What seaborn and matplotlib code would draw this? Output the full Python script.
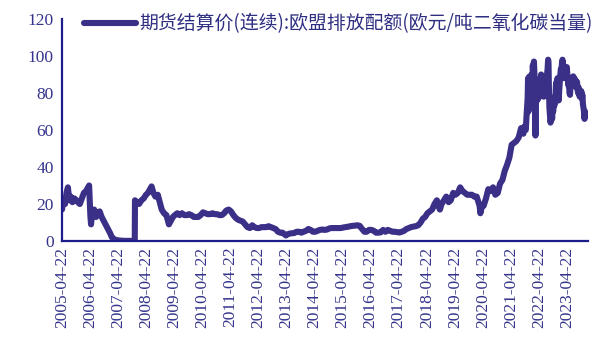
import matplotlib
matplotlib.use("Agg")
import matplotlib.pyplot as plt
import seaborn as sns
import pandas as pd

# ---- data ----
dates = [
    "2005-04-22", "2005-05-10", "2005-06-01", "2005-06-20", "2005-07-08", "2005-07-25",
    "2005-08-15", "2005-09-05", "2005-10-01", "2005-10-25", "2005-11-15", "2005-12-10",
    "2006-01-05", "2006-02-01", "2006-03-01", "2006-04-10", "2006-04-26", "2006-05-05",
    "2006-05-20", "2006-06-15", "2006-07-10", "2006-08-01", "2006-08-25", "2006-09-20",
    "2006-10-15", "2006-11-10", "2006-12-05", "2007-01-05", "2007-02-01", "2007-03-01",
    "2007-04-01", "2007-05-01", "2007-07-01", "2007-09-01", "2007-11-01", "2007-11-25",
    "2007-11-28", "2007-12-20", "2008-01-20", "2008-02-20", "2008-03-20", "2008-04-20",
    "2008-05-15", "2008-06-10", "2008-07-01", "2008-07-25", "2008-08-20", "2008-09-20",
    "2008-10-15", "2008-11-10", "2008-12-10", "2009-01-10", "2009-02-12", "2009-03-10",
    "2009-04-05", "2009-05-01", "2009-06-01", "2009-07-01", "2009-08-01", "2009-09-01",
    "2009-10-01", "2009-11-01", "2009-12-01", "2010-01-01", "2010-02-01", "2010-03-01",
    "2010-04-01", "2010-05-01", "2010-06-01", "2010-07-01", "2010-08-01", "2010-09-01",
    "2010-10-01", "2010-11-01", "2010-12-01", "2011-01-01", "2011-02-01", "2011-03-01",
    "2011-04-01", "2011-05-01", "2011-06-01", "2011-07-01", "2011-08-01", "2011-09-01",
    "2011-10-01", "2011-11-01", "2011-12-01", "2012-01-01", "2012-02-01", "2012-03-01",
    "2012-04-01", "2012-05-01", "2012-06-01", "2012-07-01", "2012-08-01", "2012-09-01",
    "2012-10-01", "2012-11-01", "2012-12-01", "2013-01-01", "2013-02-01", "2013-03-01",
    "2013-04-15", "2013-05-01", "2013-06-01", "2013-07-01", "2013-08-01", "2013-09-01",
    "2013-10-01", "2013-11-01", "2013-12-01", "2014-01-01", "2014-02-01", "2014-03-01",
    "2014-04-01", "2014-05-01", "2014-06-01", "2014-07-01", "2014-08-01", "2014-09-01",
    "2014-10-01", "2014-11-01", "2014-12-01", "2015-01-01", "2015-02-01", "2015-03-01",
    "2015-04-01", "2015-05-01", "2015-06-01", "2015-07-01", "2015-08-01", "2015-09-01",
    "2015-10-01", "2015-11-01", "2015-12-01", "2016-01-01", "2016-02-01", "2016-03-01",
    "2016-04-01", "2016-05-01", "2016-06-01", "2016-07-01", "2016-08-01", "2016-09-01",
    "2016-10-01", "2016-11-01", "2016-12-01", "2017-01-01", "2017-02-01", "2017-03-01",
    "2017-04-01", "2017-05-01", "2017-06-01", "2017-07-01", "2017-08-01", "2017-09-01",
    "2017-10-01", "2017-11-01", "2017-12-01", "2018-01-01", "2018-02-01", "2018-03-01",
    "2018-04-01", "2018-05-01", "2018-06-01", "2018-07-01", "2018-08-01", "2018-09-01",
    "2018-09-20", "2018-10-10", "2018-11-01", "2018-12-01", "2019-01-01", "2019-02-01",
    "2019-03-01", "2019-04-01", "2019-05-01", "2019-06-01", "2019-07-01", "2019-08-01",
    "2019-09-01", "2019-10-01", "2019-11-01", "2019-12-01", "2020-01-01", "2020-02-01",
    "2020-03-10", "2020-03-20", "2020-04-10", "2020-05-01", "2020-06-01", "2020-07-01",
    "2020-08-01", "2020-09-01", "2020-10-01", "2020-11-01", "2020-12-01", "2021-01-01",
    "2021-02-01", "2021-03-01", "2021-04-01", "2021-05-01", "2021-06-01", "2021-07-01",
    "2021-08-01", "2021-09-01", "2021-10-01", "2021-10-15", "2021-11-01", "2021-11-10",
    "2021-11-18", "2021-11-25", "2021-12-01", "2021-12-06", "2021-12-10", "2021-12-15",
    "2021-12-20", "2021-12-27", "2022-01-04", "2022-01-10", "2022-01-17", "2022-01-24",
    "2022-02-01", "2022-02-08", "2022-02-15", "2022-02-22", "2022-03-01", "2022-03-07",
    "2022-03-11", "2022-03-16", "2022-03-22", "2022-03-29", "2022-04-05", "2022-04-12",
    "2022-04-20", "2022-04-28", "2022-05-06", "2022-05-13", "2022-05-20", "2022-05-27",
    "2022-06-03", "2022-06-10", "2022-06-17", "2022-06-24", "2022-07-01", "2022-07-08",
    "2022-07-15", "2022-07-22", "2022-07-29", "2022-08-05", "2022-08-12", "2022-08-19",
    "2022-08-24", "2022-08-29", "2022-09-05", "2022-09-12", "2022-09-19", "2022-09-26",
    "2022-10-03", "2022-10-10", "2022-10-17", "2022-10-24", "2022-10-31", "2022-11-07",
    "2022-11-14", "2022-11-21", "2022-11-28", "2022-12-05", "2022-12-12", "2022-12-19",
    "2022-12-27", "2023-01-04", "2023-01-11", "2023-01-18", "2023-01-25", "2023-02-01",
    "2023-02-08", "2023-02-15", "2023-02-22", "2023-03-01", "2023-03-08", "2023-03-15",
    "2023-03-22", "2023-03-29", "2023-04-05", "2023-04-12", "2023-04-19", "2023-04-26",
    "2023-05-03", "2023-05-10", "2023-05-17", "2023-05-24", "2023-05-31", "2023-06-07",
    "2023-06-14", "2023-06-21", "2023-06-28", "2023-07-05", "2023-07-12", "2023-07-19",
    "2023-07-26", "2023-08-02", "2023-08-09", "2023-08-16", "2023-08-23", "2023-08-30",
    "2023-09-06", "2023-09-13", "2023-09-20", "2023-09-27", "2023-10-04", "2023-10-11",
    "2023-10-18", "2023-10-25", "2023-11-01", "2023-11-08", "2023-11-15", "2023-11-22",
    "2023-11-29", "2023-12-06", "2023-12-13",
]
prices = [
    17, 22, 20, 26, 29, 22,
    24, 21, 23, 22, 21, 20,
    23, 26, 27, 30, 14, 9,
    16, 17, 13, 15, 16, 13,
    11, 9, 7, 4.5, 2, 1,
    0.5, 0.3, 0.1, 0.1, 0.05, 0.05,
    22, 21, 20, 22, 23, 25,
    26, 28, 29.5, 26, 24, 25,
    21, 17, 15, 14, 9, 11,
    13, 14, 15, 14, 15, 14,
    14, 14.5, 14, 13, 13, 13,
    14, 15.5, 15, 14.5, 14.5, 15,
    14.5, 14.5, 14, 14, 15, 16.5,
    17, 16, 14, 12.5, 11.5, 11,
    10.5, 9, 7.5, 7, 8.5, 7.5,
    7, 7, 7.5, 7.5, 7.5, 8,
    7.5, 7, 6.5, 5, 4.5, 4.5,
    3, 3.5, 4, 4.2, 4.3, 5,
    5, 4.5, 5, 5.5, 6.5, 6,
    5, 5, 5.5, 6, 6.2, 6,
    6.2, 6.8, 7, 7, 7, 7,
    7, 7.3, 7.5, 7.7, 8, 8.2,
    8.3, 8.5, 8.2, 6.5, 5, 5,
    6, 6, 5.5, 4.5, 4.5, 4.7,
    6, 5, 6, 5.5, 5, 5,
    4.8, 4.6, 5, 5.5, 6.5, 7,
    7.5, 7.8, 8, 8.5, 10, 12,
    13, 15, 16, 17, 20, 22,
    19, 17, 20, 22, 24, 21,
    22, 26, 25, 26, 29, 27,
    26, 25, 25, 25, 24, 24,
    19, 15, 19, 19, 23, 28,
    27, 29, 25, 26, 31, 33,
    38, 41, 45, 52, 53, 54,
    56, 61, 58, 62, 60, 67,
    72, 77, 88, 70, 86, 76,
    89, 72, 84, 80, 90, 83,
    95, 88, 97, 90, 75, 57,
    72, 78, 80, 76, 82, 77,
    85, 78, 88, 82, 90, 84,
    89, 80, 86, 78, 84, 79,
    86, 82, 88, 90, 93, 98,
    96, 83, 72, 68, 64, 66,
    70, 66, 72, 70, 76, 73,
    78, 75, 84, 86, 82, 88,
    81, 76, 82, 86, 90, 93,
    91, 96, 98, 96, 92, 88,
    92, 89, 92, 88, 94, 90,
    88, 84, 86, 80, 79, 84,
    87, 88, 84, 87, 89, 85,
    88, 84, 87, 85, 83, 86,
    82, 80, 83, 80, 78, 81,
    79, 81, 77, 79, 74, 72,
    70, 66, 70,
]
tick_dates = ["2005-04-22", "2006-04-22", "2007-04-22", "2008-04-22", "2009-04-22",
              "2010-04-22", "2011-04-22", "2012-04-22", "2013-04-22", "2014-04-22",
              "2015-04-22", "2016-04-22", "2017-04-22", "2018-04-22", "2019-04-22",
              "2020-04-22", "2021-04-22", "2022-04-22", "2023-04-22"]
y_ticks = [0, 20, 40, 60, 80, 100, 120]
series_name = "期货结算价(连续):欧盟排放配额(欧元/吨二氧化碳当量)"

df = pd.DataFrame({"date": pd.to_datetime(dates), "price": prices, "series": series_name})

sns.set_style("white")
plt.rcParams["font.family"] = ["Liberation Serif", "DejaVu Serif"]

LINE = "#3b3087"
AXIS = "#1c1c8a"
TXT = "#34348c"

fig = plt.figure(figsize=(5.95, 3.47), dpi=100)
ax = fig.add_axes([62 / 595, 1 - 241 / 347, (588 - 62) / 595, (241 - 19) / 347])

sns.lineplot(data=df, x="date", y="price", hue="series", palette=[LINE],
             linewidth=4.4, ax=ax, solid_capstyle="round", solid_joinstyle="round")

ax.set_xlim(pd.Timestamp("2005-04-22"), pd.Timestamp("2024-01-20"))
ax.set_ylim(0, 120)
ax.set_xticks(pd.to_datetime(tick_dates))
ax.set_xticklabels(tick_dates, rotation=90, fontsize=12.5, color=TXT)
ax.set_yticks(y_ticks)
ax.set_yticklabels([str(v) for v in y_ticks], fontsize=12.5, color=TXT)
ax.set_xlabel("")
ax.set_ylabel("")

for s in ["top", "right"]:
    ax.spines[s].set_visible(False)
for s in ["left", "bottom"]:
    ax.spines[s].set_color(AXIS)
    ax.spines[s].set_linewidth(1.6)
ax.tick_params(axis="both", direction="in", length=4, width=1.6, color=AXIS)
ax.tick_params(axis="x", pad=4)
ax.tick_params(axis="y", pad=6)

leg = ax.legend(loc="upper left", bbox_to_anchor=(0.028, 1.06), frameon=False,
                handlelength=2.75, handletextpad=0.15, borderaxespad=0,
                prop={"family": ["Noto Sans CJK SC", "DejaVu Sans"], "size": 13.6})
for t in leg.get_texts():
    t.set_color("#2e2e82")
for h in leg.get_lines():
    h.set_linewidth(4.4)

fig.savefig("out.png", dpi=100)
